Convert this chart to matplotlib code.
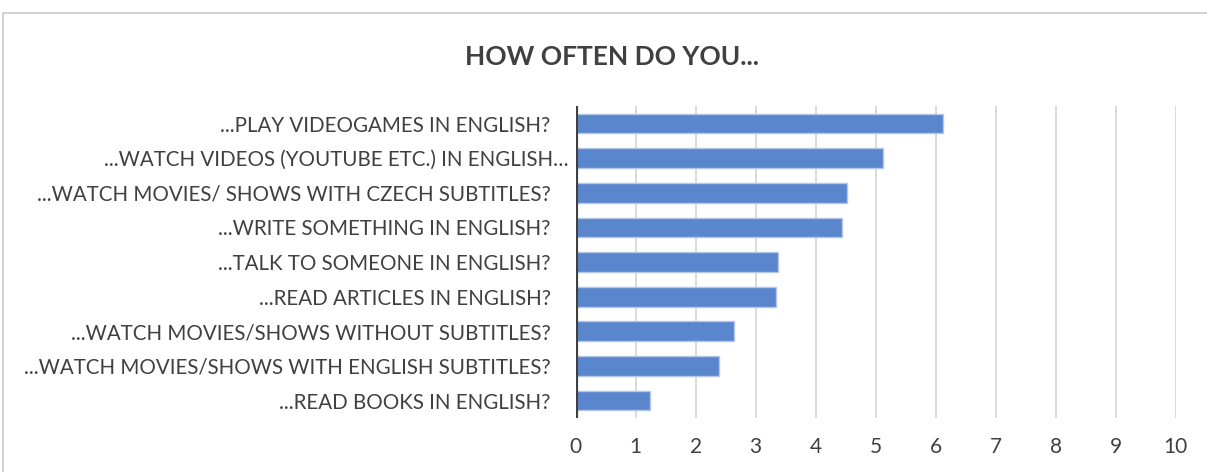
import numpy as np
import matplotlib
matplotlib.use("Agg")
import matplotlib.pyplot as plt
from matplotlib.patches import Rectangle

# Данные
questions = [
    "...PLAY VIDEOGAMES IN ENGLISH?",
    "...WATCH VIDEOS (YOUTUBE ETC.) IN ENGLISH\u2026",
    "...WATCH MOVIES/ SHOWS WITH CZECH SUBTITLES?",
    "...WRITE SOMETHING IN ENGLISH?",
    "...TALK TO SOMEONE IN ENGLISH?",
    "...READ ARTICLES IN ENGLISH?",
    "...WATCH MOVIES/SHOWS WITHOUT SUBTITLES?",
    "...WATCH MOVIES/SHOWS WITH ENGLISH SUBTITLES?",
    "...READ BOOKS IN ENGLISH?",
]
scores = [6.13, 5.12, 4.53, 4.44, 3.38, 3.34, 2.63, 2.38, 1.24]
x_ticks = list(range(0, 11))

plt.rcParams['font.family'] = ['Lato', 'DejaVu Sans']
txt = '#404040'

fig = plt.figure(figsize=(12.07, 4.72), dpi=100)
ax = fig.add_axes([0.477, 0.1148, 0.497, 0.66])

y = np.arange(len(questions))
ax.barh(y, scores, height=0.57, color='#5a86cd', edgecolor='#b4c7e7',
        linewidth=1, zorder=3)
ax.set_ylim(len(questions) - 0.5, -0.5)
ax.set_xlim(0, 10)
ax.set_xticks(x_ticks)
ax.set_yticks(y)
ax.set_yticklabels(questions, fontsize=14.8, color=txt)
ax.tick_params(axis='x', length=0, labelsize=15, labelcolor=txt, pad=14)
ax.tick_params(axis='y', length=0, pad=18)
# последняя подпись обрезана Excel'ем и торчит правее
ax.get_yticklabels()[1].set_x(0.03)
ax.grid(axis='x', color='#d4d4d4', linewidth=1.2, zorder=0)
ax.axvline(0, color='#404040', linewidth=3, zorder=4)
for s in ax.spines.values():
    s.set_visible(False)

fig.text(0.507, 0.88, "HOW OFTEN DO YOU...", ha='center', va='center',
         fontsize=19, fontweight='bold', color=txt)

# рамка вокруг диаграммы
fig.patches.append(Rectangle((0.0025, -0.1), 1.1, 0.9725 + 0.1,
                             transform=fig.transFigure, fill=False,
                             edgecolor='#c8c8c8', linewidth=1.2))

fig.savefig('out.png', dpi=100)
